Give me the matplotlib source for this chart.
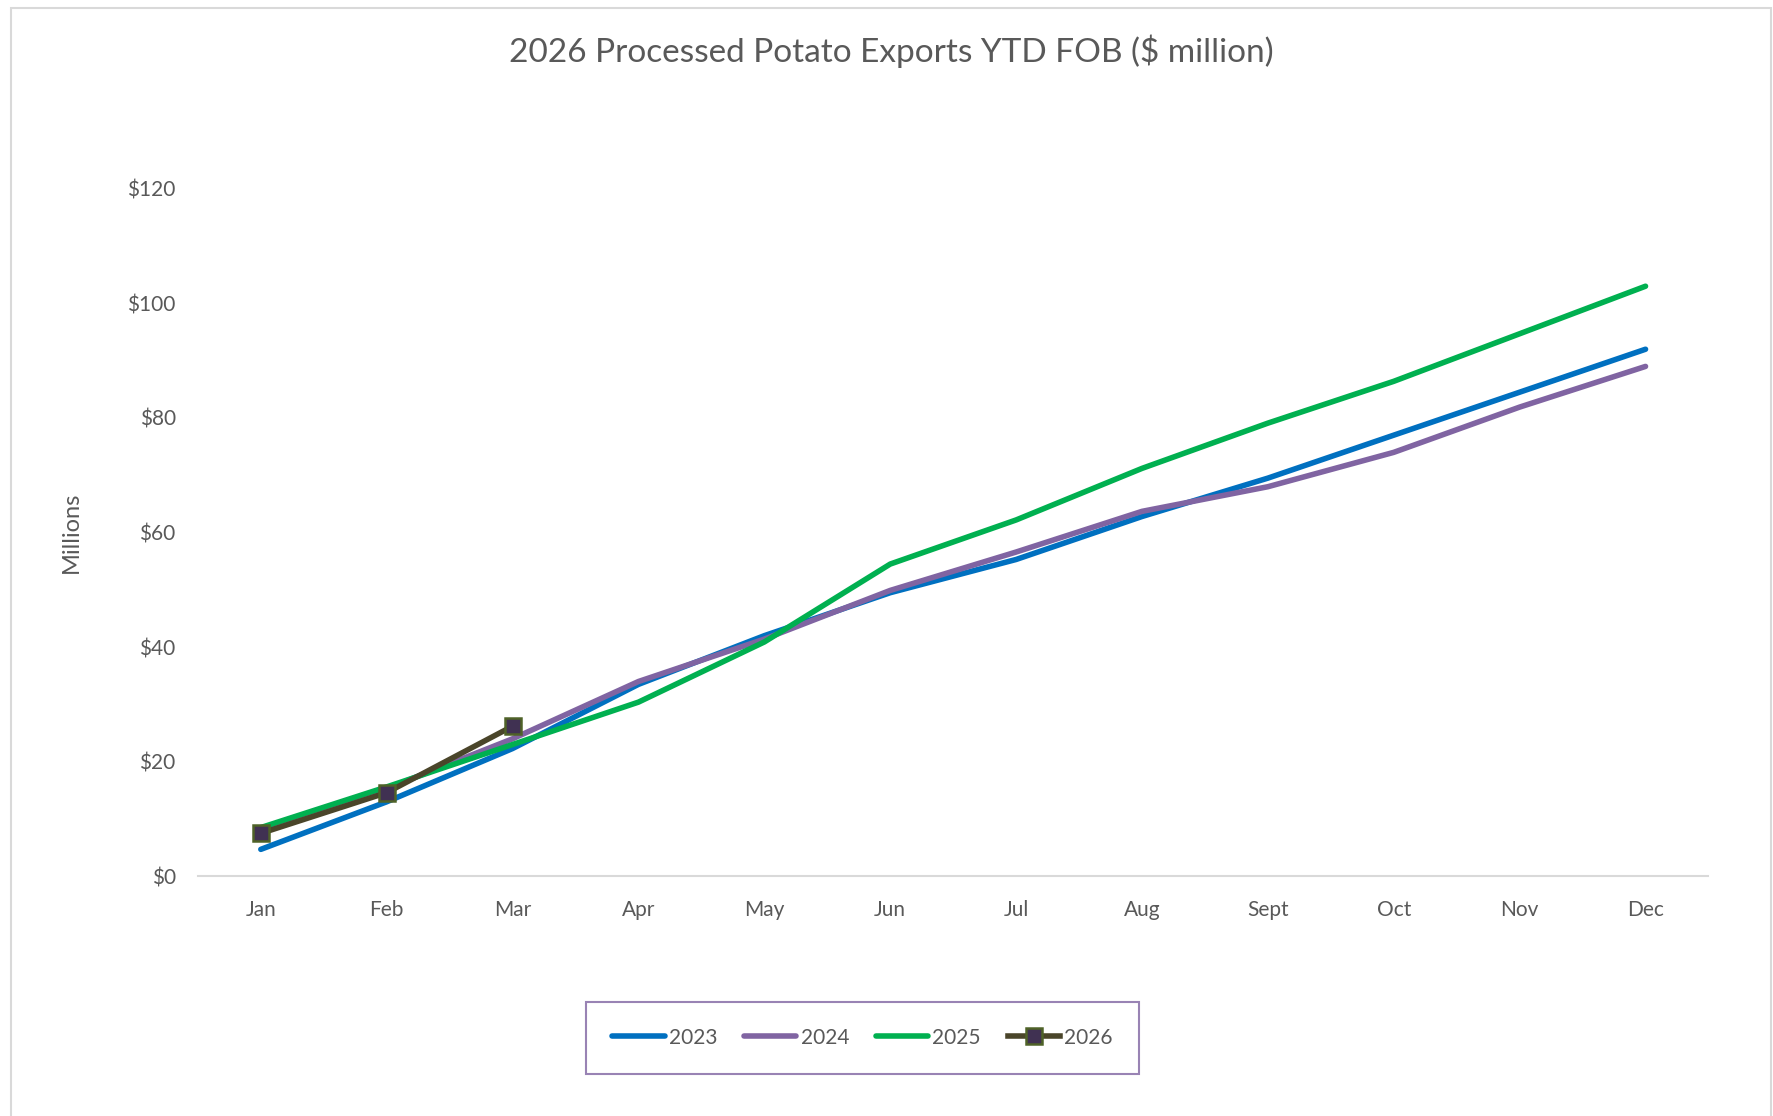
import matplotlib
matplotlib.use("Agg")
import matplotlib.pyplot as plt
from matplotlib.patches import Rectangle
from matplotlib.ticker import FuncFormatter

months = ["Jan", "Feb", "Mar", "Apr", "May", "Jun", "Jul", "Aug", "Sept", "Oct", "Nov", "Dec"]
y2023 = [4.7, 13.0, 22.3, 33.5, 42.0, 49.5, 55.3, 62.8, 69.5, 77.0, 84.5, 92.0]
y2024 = [8.0, 15.3, 24.0, 34.0, 41.4, 49.9, 56.6, 63.7, 68.0, 74.0, 81.9, 89.0]
y2025 = [8.5, 15.6, 23.0, 30.4, 40.9, 54.5, 62.2, 71.2, 79.1, 86.4, 94.7, 103.0]
y2026 = [7.5, 14.6, 26.2]

TXT = "#595959"
plt.rcParams["font.family"] = ["Lato", "DejaVu Sans"]

fig = plt.figure(figsize=(17.73, 11.16), dpi=100)
ax = fig.add_axes([0.1116, 0.2148, 0.852, 0.616])

x = list(range(len(months)))
ax.plot(x, y2023, color="#0070C0", lw=4, solid_capstyle="round", label="2023")
ax.plot(x, y2024, color="#8064A2", lw=4, solid_capstyle="round", label="2024")
ax.plot(x, y2025, color="#00B050", lw=4, solid_capstyle="round", label="2025")
ax.plot(x[:len(y2026)], y2026, color="#4A452A", lw=4, marker="s", ms=11,
        mfc="#403152", mec="#4F6228", mew=1.8, label="2026")

ax.set_xlim(-0.5, 11.5)
ax.set_ylim(0, 120)
ax.set_yticks(range(0, 121, 20))
ax.yaxis.set_major_formatter(FuncFormatter(lambda v, p: f"${v:.0f}"))
ax.set_xticks(x)
ax.set_xticklabels(months)
ax.tick_params(axis="both", length=0, labelsize=15, colors=TXT)
ax.tick_params(axis="y", pad=16)
ax.tick_params(axis="x", pad=17)
for s in ["top", "right", "left"]:
    ax.spines[s].set_visible(False)
ax.spines["bottom"].set_color("#d9d9d9")
ax.spines["bottom"].set_linewidth(1.5)
ax.set_ylabel("Millions", fontsize=17, color=TXT)
ax.yaxis.set_label_coords(-0.077, 0.5)

fig.text(891 / 1773, 1 - 51 / 1116, "2026 Processed Potato Exports YTD FOB ($ million)",
         ha="center", va="center", fontsize=24, color=TXT)

leg = fig.legend(loc="center", bbox_to_anchor=(0.4865, 0.0703), ncol=4, fontsize=15,
                 frameon=True, fancybox=False, edgecolor="#8064A2", handlelength=2.5,
                 handletextpad=0.2, columnspacing=1.3, borderpad=1.25, labelcolor=TXT)
leg.get_frame().set_linewidth(1.5)

fig.patches.append(Rectangle((11 / 1773, -0.05), 1760 / 1773, 1.05 - 8 / 1116,
                             transform=fig.transFigure, fill=False,
                             edgecolor="#d9d9d9", lw=1.5))

fig.savefig("out.png", dpi=100)
